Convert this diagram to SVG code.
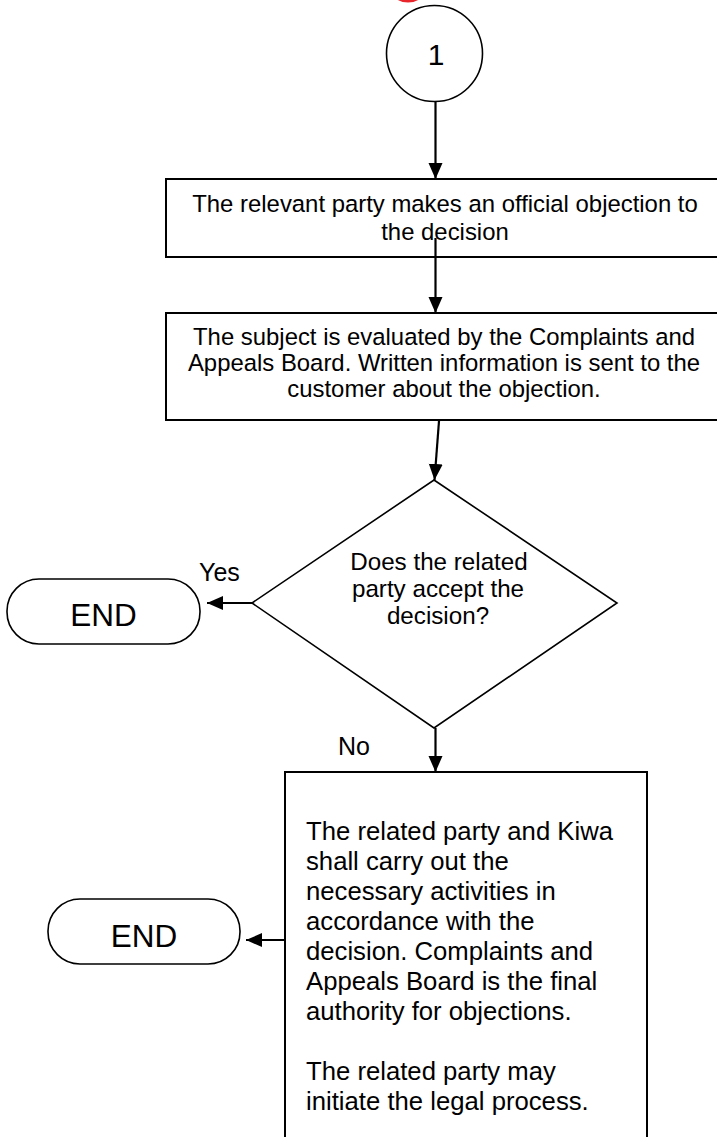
<svg xmlns="http://www.w3.org/2000/svg" width="717" height="1137" viewBox="0 0 717 1137">
<style>
text{font-family:"Liberation Sans",Arial,sans-serif;fill:#000}
.box{fill:#fff;stroke:#000;stroke-width:2}
.thin{fill:#fff;stroke:#000;stroke-width:1.6}
.con{fill:none;stroke:#000;stroke-width:2.2}
.t23{font-size:23.9px}
.t24{font-size:24.2px}
.t26{font-size:25.7px}
.end{font-size:31.5px}
</style>
<defs>
<marker id="ah" markerUnits="userSpaceOnUse" markerWidth="18" markerHeight="16" refX="16" refY="7" orient="auto">
<path d="M0,0 L16,7 L0,14 Z" fill="#000"/>
</marker>
</defs>
<ellipse cx="408" cy="-11" rx="16" ry="12" fill="none" stroke="#e8252b" stroke-width="3"/>
<g id="start">
<circle class="thin" cx="434.5" cy="53.5" r="48"/>
<text x="436" y="65" font-size="30" text-anchor="middle">1</text>
</g>
<g id="box1">
<rect class="box" x="166" y="179" width="560" height="78"/>
<text class="t23" x="445" y="212" text-anchor="middle">The relevant party makes an official objection to</text>
<text class="t23" x="445" y="240" text-anchor="middle">the decision</text>
</g>
<g id="box2">
<rect class="box" x="166" y="313" width="560" height="107"/>
<text class="t23" x="444" y="345" text-anchor="middle">The subject is evaluated by the Complaints and</text>
<text class="t23" x="444" y="371" text-anchor="middle">Appeals Board. Written information is sent to the</text>
<text class="t23" x="444" y="397" text-anchor="middle">customer about the objection.</text>
</g>
<g id="decision">
<polygon class="thin" points="434,480 617,603 434,728 252,603"/>
<text class="t24" x="439" y="570" text-anchor="middle">Does the related</text>
<text class="t24" x="438" y="597" text-anchor="middle">party accept the</text>
<text class="t24" x="438" y="624" text-anchor="middle">decision?</text>
</g>
<g id="end1">
<rect class="thin" x="7" y="579" width="193" height="65" rx="32" ry="32"/>
<text class="end" x="103.5" y="626" text-anchor="middle">END</text>
</g>
<g id="box3">
<path class="box" d="M285,1145 L285,772 L647,772 L647,1145"/>
<g class="t26">
<text x="306" y="840">The related party and Kiwa</text>
<text x="306" y="870">shall carry out the</text>
<text x="306" y="900">necessary activities in</text>
<text x="306" y="930">accordance with the</text>
<text x="306" y="960">decision. Complaints and</text>
<text x="306" y="990">Appeals Board is the final</text>
<text x="306" y="1020">authority for objections.</text>
<text x="306" y="1080">The related party may</text>
<text x="306" y="1110">initiate the legal process.</text>
</g>
</g>
<g id="end2">
<rect class="thin" x="48" y="899" width="192" height="65" rx="32" ry="32"/>
<text class="end" x="144" y="947" text-anchor="middle">END</text>
</g>
<g id="connectors">
<line class="con" x1="435.5" y1="102" x2="435.5" y2="179" marker-end="url(#ah)"/>
<line class="con" x1="435.5" y1="238" x2="435.5" y2="313" marker-end="url(#ah)"/>
<line class="con" x1="439" y1="421" x2="434.5" y2="480" marker-end="url(#ah)"/>
<line class="con" x1="252" y1="603" x2="207" y2="603" marker-end="url(#ah)"/>
<line class="con" x1="435.5" y1="728" x2="435.5" y2="772" marker-end="url(#ah)"/>
<line class="con" x1="285" y1="940" x2="246" y2="940" marker-end="url(#ah)"/>
<text x="199" y="581" font-size="25">Yes</text>
<text x="338" y="755" font-size="25">No</text>
</g>
</svg>
